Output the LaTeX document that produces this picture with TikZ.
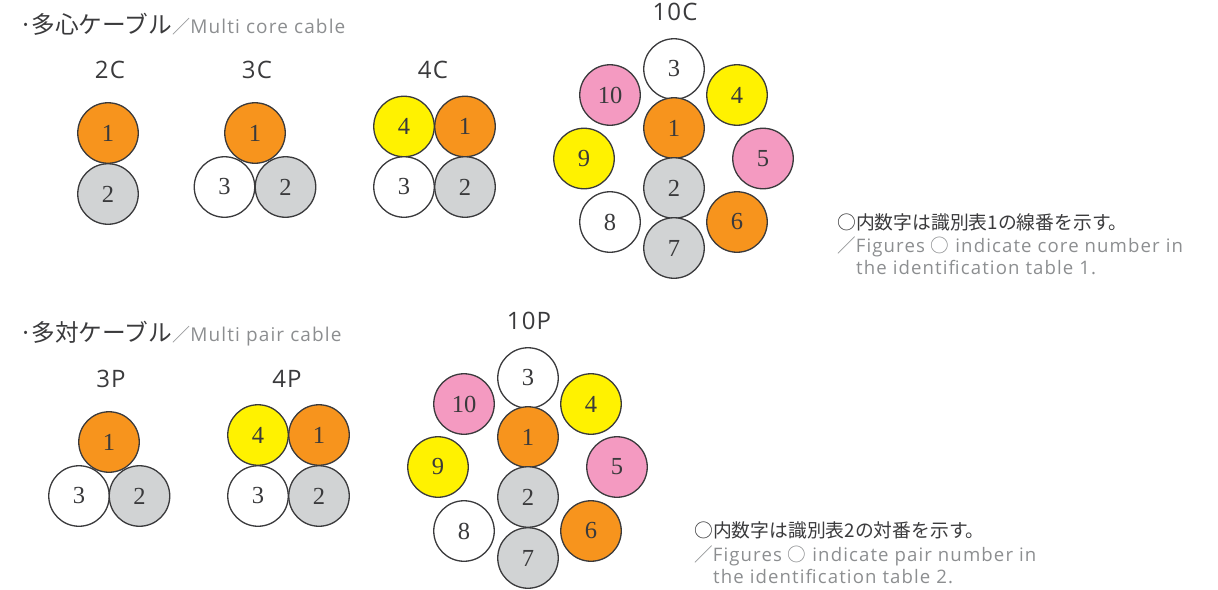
\documentclass[tikz,border=0pt]{standalone}
\usepackage{fontspec}
\setmainfont{Liberation Serif}
\newfontfamily\jpfont{Noto Sans CJK JP}
\newfontfamily\lat[LetterSpace=6]{Open Sans}
\newfontfamily\hlat[LetterSpace=5]{Open Sans}
\definecolor{dk}{HTML}{3A3A3C}
\definecolor{gy}{HTML}{8C8E90}
\definecolor{oc}{HTML}{F7941D}
\definecolor{yc}{HTML}{FFF200}
\definecolor{pc}{HTML}{F49AC1}
\definecolor{gc}{HTML}{D1D3D4}
\tikzset{
 x=1pt,y=-1pt,
 core/.style={circle,draw=dk,line width=1.3pt,minimum size=60.5pt,inner sep=0pt,text=dk,font=\fontsize{24.5}{24.5}\selectfont},
 co/.style={core,fill=oc},cy/.style={core,fill=yc},cp/.style={core,fill=pc},cg/.style={core,fill=gc},cw/.style={core,fill=white},
 head/.style={anchor=center,text=dk,inner sep=0pt,font=\hlat\fontsize{24}{24}\selectfont},
 ttl/.style={anchor=base west,inner sep=0pt,text=dk},
 note/.style={anchor=base west,inner sep=0pt,text=gy,font=\lat\fontsize{18.6}{18.6}\selectfont},
 jnote/.style={anchor=base west,inner sep=0pt,text=dk,font=\jpfont\fontsize{18.8}{18.8}\selectfont},
}
\begin{document}
\begin{tikzpicture}
\useasboundingbox (0,0) rectangle (1218,589);
% titles
\node[ttl] (t1) at (19,33) {\jpfont\fontsize{23.7}{23.7}\selectfont ·\hspace{-1pt}多心ケーブル\textcolor{gy}{\fontsize{18}{18}\selectfont ／}\textcolor{gy}{\lat\fontsize{19}{19}\selectfont Multi core cable}};
\node[ttl] (t2) at (19,341) {\jpfont\fontsize{23.7}{23.7}\selectfont ·\hspace{-1pt}多対ケーブル\textcolor{gy}{\fontsize{18}{18}\selectfont ／}\textcolor{gy}{\lat\fontsize{19}{19}\selectfont Multi pair cable}};
% headers
\node[head] (h2c) at (110,70) {2C};
\node[head] (h3c) at (257,70) {3C};
\node[head] (h4c) at (433,70) {4C};
\node[head] (h10c) at (675,12) {10C};
\node[head] (h3p) at (111,379) {3P};
\node[head] (h4p) at (287,379) {4P};
\node[head] (h10p) at (529,321) {10P};
% 2C
\node[co] (a1) at (108,133) {1};
\node[cg] (a2) at (108,194) {2};
% 3C
\node[co] (b1) at (255,133) {1};
\node[cw] (b3) at (224.5,187) {3};
\node[cg] (b2) at (285.5,187) {2};
% 4C
\node[cy] (c4) at (404,126.5) {4};
\node[co] (c1) at (465,126.5) {1};
\node[cw] (c3) at (404,187) {3};
\node[cg] (c2) at (465,187) {2};
% 10C
\node[cw] (d3) at (674,69) {3};
\node[cp] (d10) at (610,95) {10};
\node[cy] (d4) at (737,95) {4};
\node[co] (d1) at (674,128) {1};
\node[cy] (d9) at (584,158.5) {9};
\node[cp] (d5) at (763,158.5) {5};
\node[cg] (d2) at (674,188) {2};
\node[cw] (d8) at (610,222) {8};
\node[co] (d6) at (737,222) {6};
\node[cg] (d7) at (674,248) {7};
% 3P
\node[co] (e1) at (109,442) {1};
\node[cw] (e3) at (79,496) {3};
\node[cg] (e2) at (139.5,496) {2};
% 4P
\node[cy] (f4) at (258,435) {4};
\node[co] (f1) at (319,435) {1};
\node[cw] (f3) at (258,496) {3};
\node[cg] (f2) at (319,496) {2};
% 10P
\node[cw] (g3) at (528,378) {3};
\node[cp] (g10) at (464,404) {10};
\node[cy] (g4) at (591,404) {4};
\node[co] (g1) at (528,437) {1};
\node[cy] (g9) at (438,467) {9};
\node[cp] (g5) at (617,467) {5};
\node[cg] (g2) at (528,497) {2};
\node[cw] (g8) at (464,531) {8};
\node[co] (g6) at (591,531) {6};
\node[cg] (g7) at (528,558) {7};
% notes
\node[jnote] (n1) at (837,229) {○内数字は識別表1の線番を示す。};
\node[note] (n2) at (837,252) {{\jpfont／}Figures {\jpfont ○} indicate core number in};
\node[note] (n3) at (856,274) {the identification table 1.};
\node[jnote] (m1) at (694,537) {○内数字は識別表2の対番を示す。};
\node[note] (m2) at (694,561) {{\jpfont／}Figures {\jpfont ○} indicate pair number in};
\node[note] (m3) at (713,583) {the identification table 2.};
\end{tikzpicture}
\end{document}
